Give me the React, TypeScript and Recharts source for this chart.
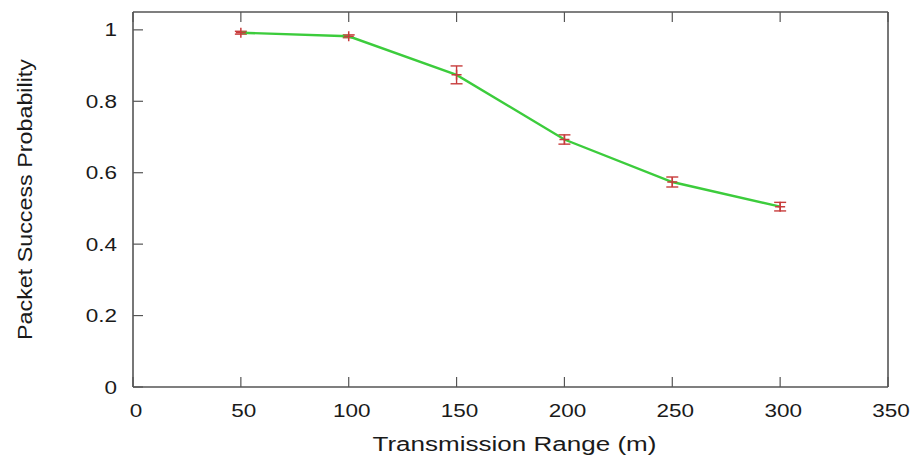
import { ErrorBar, Label, Line, LineChart, XAxis, YAxis } from "recharts";

const ranges = [50, 100, 150, 200, 250, 300];
const success = [0.992, 0.982, 0.874, 0.693, 0.574, 0.505];
const spread = [0.004, 0.004, 0.025, 0.013, 0.014, 0.012];

const xTicks = [0, 50, 100, 150, 200, 250, 300, 350];
const yTicks = [0, 0.2, 0.4, 0.6, 0.8, 1];

const data = ranges.map((r, i) => ({ range: r, success: success[i], err: spread[i] }));

const AXIS = "#555";
const INK = "#1a1a1a";
const FONT = "'Liberation Sans', Arial, sans-serif";
const TICK = 10;
// the plot's lettering is wide, so text is stretched along its run
const WIDE = 1.25;

function BottomTick({ x, y, payload }: any) {
  return (
    <g>
      <line x1={x} y1={y} x2={x} y2={y - TICK} stroke={AXIS} strokeWidth={1.2} />
      <text
        transform={`translate(${x + 3},${y + 30}) scale(${WIDE},1)`}
        textAnchor="middle"
        fontSize={18}
        fontFamily={FONT}
        fill={INK}
      >
        {payload.value}
      </text>
    </g>
  );
}

function LeftTick({ x, y, payload }: any) {
  return (
    <g>
      <line x1={x} y1={y} x2={x + TICK} y2={y} stroke={AXIS} strokeWidth={1.2} />
      <text
        transform={`translate(${x - 16},${y + 6.5}) scale(${WIDE},1)`}
        textAnchor="end"
        fontSize={18}
        fontFamily={FONT}
        fill={INK}
      >
        {payload.value}
      </text>
    </g>
  );
}

function TopTick({ x, y }: any) {
  return <line x1={x} y1={y} x2={x} y2={y + TICK} stroke={AXIS} strokeWidth={1.2} />;
}

function RightTick({ x, y }: any) {
  return <line x1={x} y1={y} x2={x - TICK} y2={y} stroke={AXIS} strokeWidth={1.2} />;
}

function PlusDot({ cx, cy }: any) {
  if (cx == null || cy == null) return null;
  return (
    <path
      d={`M${cx - 5},${cy}H${cx + 5}M${cx},${cy - 5}V${cy + 5}`}
      stroke="#c83c3c"
      strokeWidth={1.5}
      fill="none"
    />
  );
}

// every axis gets a 1px band so the plot box lands at x 133..888, y 12..387
export default function App() {
  return (
    <div style={{ position: "absolute", left: 0, top: 0, background: "#fff" }}>
      <LineChart
        width={919}
        height={456}
        data={data}
        margin={{ top: 11, right: 30, bottom: 68, left: 132 }}
      >
        <XAxis
          dataKey="range"
          type="number"
          domain={[0, 350]}
          ticks={xTicks}
          height={1}
          stroke={AXIS}
          strokeWidth={1.6}
          tickLine={false}
          tickSize={0}
          tickMargin={0}
          tick={<BottomTick />}
          interval={0}
        >
          <Label
            content={({ viewBox }: any) => (
              <text
                transform={`translate(${viewBox.x + viewBox.width / 2 + 4},${viewBox.y + 64}) scale(1.24,1)`}
                textAnchor="middle"
                fontSize={21}
                fontFamily={FONT}
                fill={INK}
              >
                Transmission Range (m)
              </text>
            )}
          />
        </XAxis>
        <XAxis
          xAxisId="top"
          orientation="top"
          dataKey="range"
          type="number"
          domain={[0, 350]}
          ticks={xTicks}
          height={1}
          stroke={AXIS}
          strokeWidth={1.6}
          tickLine={false}
          tickSize={0}
          tickMargin={0}
          tick={<TopTick />}
          interval={0}
        />
        <YAxis
          type="number"
          domain={[0, 1.05]}
          ticks={yTicks}
          width={1}
          stroke={AXIS}
          strokeWidth={1.6}
          tickLine={false}
          tickSize={0}
          tickMargin={0}
          tick={<LeftTick />}
          interval={0}
        >
          <Label
            content={({ viewBox }: any) => {
              const cx = viewBox.x - 100;
              const cy = viewBox.y + viewBox.height / 2;
              return (
                <text
                  transform={`translate(${cx},${cy}) rotate(-90) scale(1.11,1)`}
                  textAnchor="middle"
                  fontSize={21}
                  fontFamily={FONT}
                  fill={INK}
                >
                  Packet Success Probability
                </text>
              );
            }}
          />
        </YAxis>
        <YAxis
          yAxisId="right"
          orientation="right"
          type="number"
          domain={[0, 1.05]}
          ticks={yTicks}
          width={1}
          stroke={AXIS}
          strokeWidth={1.6}
          tickLine={false}
          tickSize={0}
          tickMargin={0}
          tick={<RightTick />}
          interval={0}
        />
        <Line
          dataKey="success"
          stroke="#3ccc3c"
          strokeWidth={2.4}
          dot={<PlusDot />}
          activeDot={false}
          isAnimationActive={false}
        >
          <ErrorBar dataKey="err" width={6} stroke="#c83c3c" strokeWidth={1.4} direction="y" />
        </Line>
      </LineChart>
    </div>
  );
}
